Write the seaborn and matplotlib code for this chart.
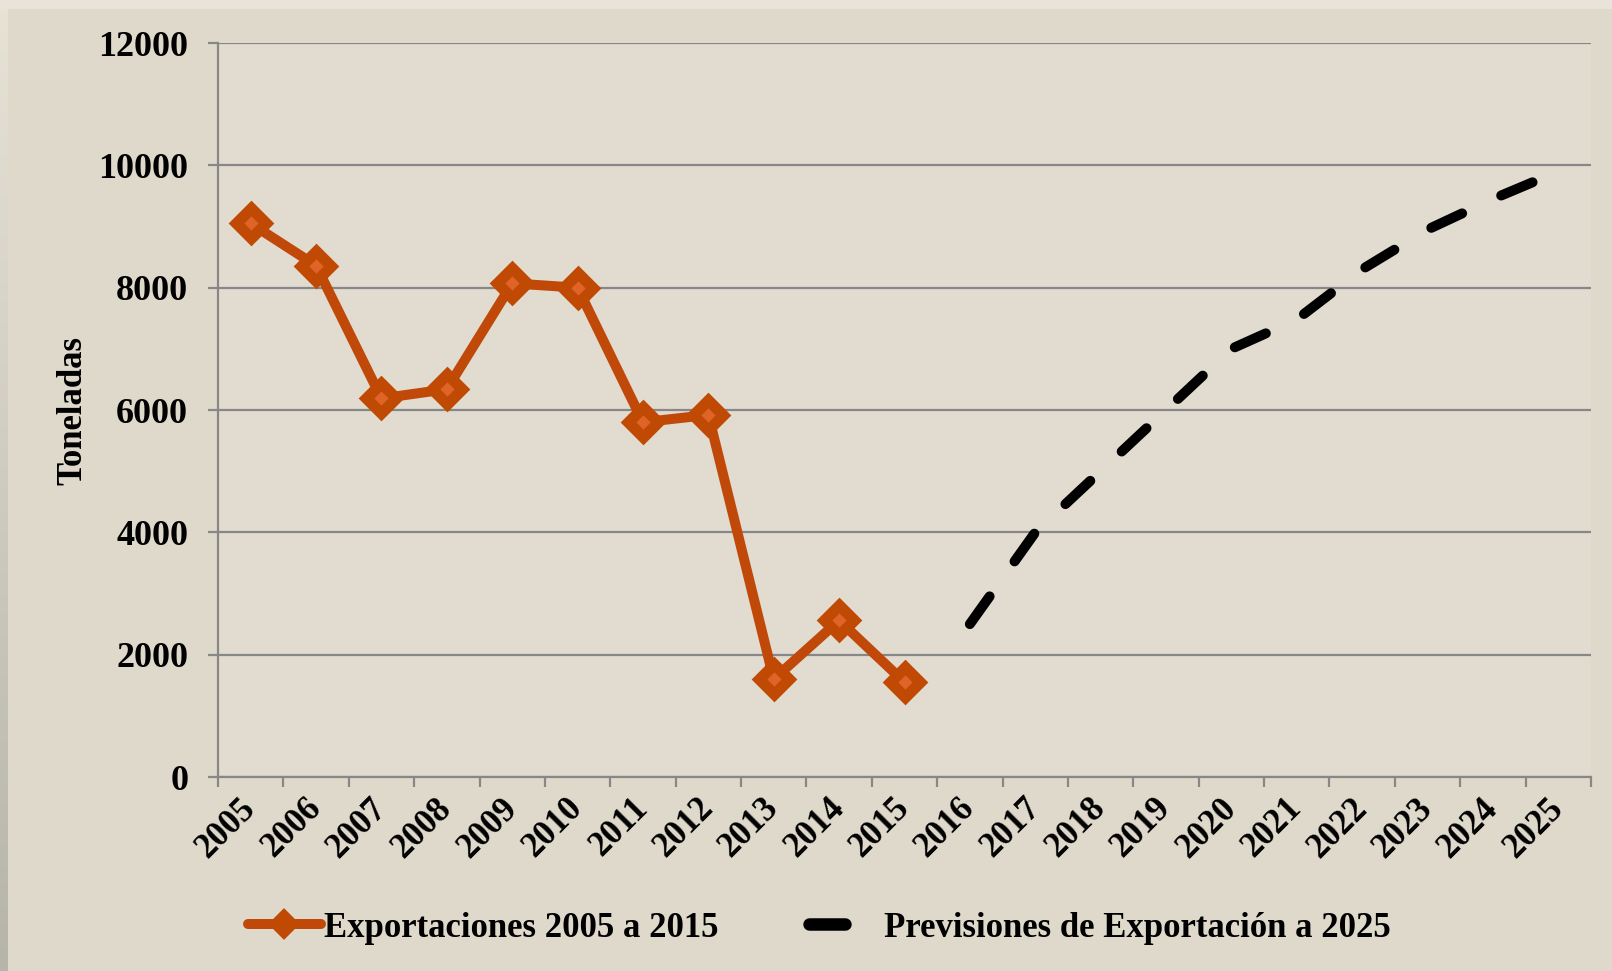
import numpy as np
import pandas as pd
import seaborn as sns
import matplotlib
matplotlib.use("Agg")
import matplotlib.pyplot as plt
from matplotlib.lines import Line2D
from matplotlib.markers import MarkerStyle
from matplotlib.colors import LinearSegmentedColormap

# ---- data ----
years = [str(y) for y in range(2005, 2026)]
export_years = [str(y) for y in range(2005, 2016)]
export_values = [9050, 8360, 6190, 6340, 8070, 8000, 5800, 5920, 1600, 2560, 1550]
forecast_years = [str(y) for y in range(2016, 2026)]
forecast_values = [2500, 4000, 5000, 6000, 7000, 7480, 8300, 8950, 9450, 9900]
yticks = [0, 2000, 4000, 6000, 8000, 10000, 12000]
label_export = "Exportaciones 2005 a 2015"
label_forecast = "Previsiones de Exportación a 2025"
ylabel = "Toneladas"

sns.set_style("ticks")
plt.rcParams["font.family"] = ["Liberation Serif", "DejaVu Serif"]
plt.rcParams["font.weight"] = "bold"
plt.rcParams["text.color"] = "black"
plt.rcParams["axes.labelcolor"] = "black"
plt.rcParams["xtick.labelcolor"] = "black"
plt.rcParams["ytick.labelcolor"] = "black"

W, H = 1612, 971
fig = plt.figure(figsize=(W / 100, H / 100), dpi=100, facecolor="#dfd9cc")

# frame strips (slide edges)
fig.patches.append(plt.Rectangle((0, 1 - 9 / H), 1, 9 / H, transform=fig.transFigure,
                                 facecolor="#e8e4d9", edgecolor="none", zorder=0))
grad_ax = fig.add_axes([0, 0, 8 / W, 1 - 9 / H])
grad = np.linspace(0, 1, 256).reshape(-1, 1)
cm = LinearSegmentedColormap.from_list("edge", ["#e6e2d6", "#b7b4aa"])
grad_ax.imshow(grad, aspect="auto", cmap=cm, origin="upper")
grad_ax.set_axis_off()

ax = fig.add_axes([218 / W, 1 - 777 / H, (1591 - 218) / W, (777 - 43) / H])
ax.set_facecolor("#e1dccf")

df_exp = pd.DataFrame({"pos": [years.index(y) for y in export_years], "value": export_values})
df_fc = pd.DataFrame({"pos": [years.index(y) for y in forecast_years], "value": forecast_values})

orange = "#c0490a"
sns.lineplot(data=df_exp, x="pos", y="value", ax=ax, color=orange, linewidth=7.2,
             marker="D", markersize=14.8, markeredgewidth=8.0,
             markeredgecolor="#c04a04", markerfacecolor="#e06328",
             solid_joinstyle="round", solid_capstyle="round", zorder=5,
             label=label_export, legend=False)
sns.lineplot(data=df_fc, x="pos", y="value", ax=ax, color="black", linewidth=7.2,
             linestyle=(0, (3.4, 4.3)), dash_capstyle="round", dash_joinstyle="round",
             zorder=4, label=label_forecast, legend=False)

# axes styling
ax.set_xlim(-0.5, len(years) - 0.5)
ax.set_ylim(0, 12000)
ax.set_yticks(yticks)
ax.set_yticklabels([str(v) for v in yticks])
ax.yaxis.grid(True, color="#878787", linewidth=1.6)
ax.set_axisbelow(True)
for s in ["top", "right"]:
    ax.spines[s].set_visible(False)
for s in ["left", "bottom"]:
    ax.spines[s].set_color("#878787")
    ax.spines[s].set_linewidth(1.6)

ax.set_xticks(np.arange(-0.5, len(years), 1.0))
ax.set_xticklabels([])
ax.set_xticks(np.arange(len(years)), minor=True)
ax.set_xticklabels(years, minor=True, rotation=45, ha="right", va="center",
                   rotation_mode="anchor", fontsize=25, fontweight="bold", color="black")
ax.tick_params(axis="x", which="major", length=7.5, width=1.6, color="#878787", direction="out")
ax.tick_params(axis="x", which="minor", length=0, pad=19)
ax.tick_params(axis="y", length=7.5, width=1.6, color="#878787", direction="out", pad=14,
               labelsize=26, labelcolor="black")
for t in ax.get_yticklabels():
    t.set_fontweight("bold")

ax.set_xlabel("")
ax.set_ylabel(ylabel, fontsize=25, fontweight="bold", color="black")
ax.yaxis.set_label_coords(-0.094, 0.5)

# legends (two entries placed separately)
legend_y = 1 - 928 / H
prop = {"family": ["Liberation Serif"], "weight": "bold", "size": 25}
h1 = Line2D([], [], color=orange, linewidth=7.2, marker="D", markersize=10,
            markeredgewidth=6, markeredgecolor="#c04a04", markerfacecolor="#c04a04",
            solid_capstyle="round")
h2 = Line2D([], [], linestyle="none", color="black",
            marker=MarkerStyle("_", capstyle="round"), markersize=26, markeredgewidth=9,
            markeredgecolor="black")
leg1 = fig.legend([h1], [label_export], loc="center left",
                  bbox_to_anchor=(248 / W, legend_y), frameon=False, prop=prop,
                  handlelength=2.1, handletextpad=0.1, numpoints=1,
                  borderpad=0, borderaxespad=0, labelcolor="black")
leg2 = fig.legend([h2], [label_forecast], loc="center left",
                  bbox_to_anchor=(791 / W, legend_y), frameon=False, prop=prop,
                  handlelength=2.1, handletextpad=0.58, numpoints=1,
                  borderpad=0, borderaxespad=0, labelcolor="black")

fig.savefig("out.png", dpi=100, facecolor=fig.get_facecolor())
